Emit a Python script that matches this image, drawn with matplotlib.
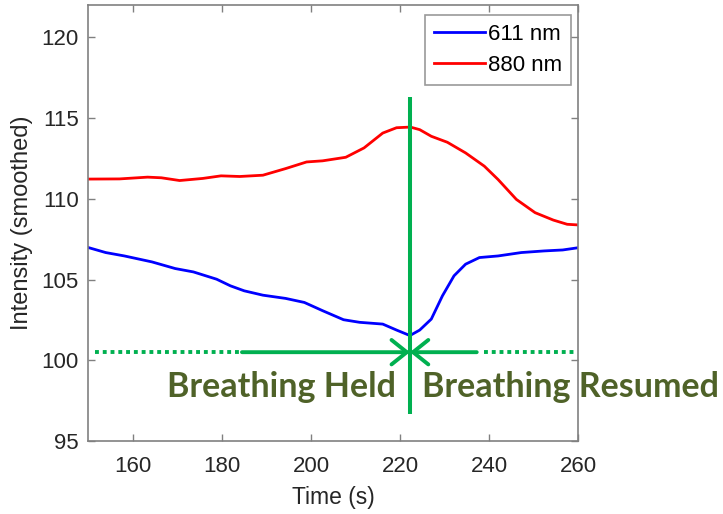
import matplotlib
matplotlib.use('Agg')
import matplotlib.pyplot as plt
import numpy as np

# 611 nm trace (blue)
t_611 = [150, 153.9, 158.1, 164.3, 169.5, 173.6, 178.8, 181.9, 185, 189.2, 194.3,
         198.5, 202.6, 207.3, 210.9, 216.1, 219.2, 222.2, 224.4, 227, 229.5,
         232.1, 234.7, 237.8, 242, 247.2, 252.3, 256.5, 260]
i_611 = [106.98, 106.67, 106.46, 106.09, 105.68, 105.47, 105.02, 104.61, 104.30,
         104.03, 103.83, 103.58, 103.07, 102.51, 102.35, 102.24, 101.87, 101.53,
         101.87, 102.55, 103.99, 105.23, 105.95, 106.36, 106.46, 106.67, 106.77,
         106.83, 106.97]

# 880 nm trace (red)
t_880 = [150, 157, 163.3, 166.4, 170.5, 175.7, 179.8, 184, 189.2, 194.3, 199,
         202.6, 207.8, 211.9, 216.1, 219.2, 222.3, 224.4, 227, 230.6, 234.7,
         238.9, 242, 246.1, 250.3, 254.4, 257.5, 260]
i_880 = [111.22, 111.23, 111.34, 111.30, 111.13, 111.26, 111.42, 111.38, 111.46,
         111.87, 112.28, 112.35, 112.57, 113.15, 114.07, 114.40, 114.44, 114.28,
         113.87, 113.50, 112.84, 112.02, 111.19, 109.96, 109.14, 108.68, 108.42,
         108.38]

x_ticks = [160, 180, 200, 220, 240, 260]
y_ticks = [95, 100, 105, 110, 115, 120]

# annotation
t_event = 222.2
marker_y = 100.5
held_dotted = [151.4, 184.5]
resumed_dotted = [238.8, 259.1]
held_start = 184.5
resumed_start = 237.2
vline_span = [96.7, 116.3]
label_y = 97.7

green = '#00B050'
olive = '#4F6228'
gray = '#808080'

plt.rcParams['font.family'] = ['Liberation Sans', 'DejaVu Sans']

fig = plt.figure(figsize=(7.23, 5.14), dpi=100)
ax = fig.add_axes([88.3 / 723, 73 / 514, 490 / 723, 436 / 514])

ax.plot(t_611, i_611, color='#0000FF', lw=2, label='611 nm')
ax.plot(t_880, i_880, color='#FF0000', lw=2, label='880 nm')

ax.plot([t_event, t_event], vline_span, color=green, lw=2.9, solid_capstyle='butt')
ax.plot(held_dotted, [marker_y, marker_y], color=green, lw=2.8,
        linestyle=(0, (1, 1)), dash_capstyle='butt')
ax.plot(resumed_dotted, [marker_y, marker_y], color=green, lw=2.8,
        linestyle=(0, (1, 1)), dash_capstyle='butt')
for start in [held_start, resumed_start]:
    ax.annotate('', xy=(t_event, marker_y), xytext=(start, marker_y),
                arrowprops=dict(arrowstyle='->,head_length=0.5,head_width=0.4',
                                lw=2.8, color=green, shrinkA=0, shrinkB=0,
                                mutation_scale=22))

ax.text(219.0, label_y, 'Breathing Held', ha='right', va='baseline',
        fontsize=24.5, fontweight='bold', family='Lato', color=olive)
ax.text(224.9, label_y, 'Breathing Resumed', ha='left', va='baseline',
        fontsize=24.5, fontweight='bold', family='Lato', color=olive,
        clip_on=False)

ax.set_xlim(150, 260)
ax.set_ylim(95, 122)
ax.set_xticks(x_ticks)
ax.set_yticks(y_ticks)
ax.tick_params(direction='in', length=5, width=1, color=gray, labelsize=16,
               labelcolor='#262626', top=True, right=True)
ax.tick_params(axis='x', pad=11)
ax.tick_params(axis='y', pad=7)
for sp in ax.spines.values():
    sp.set_color(gray)
    sp.set_linewidth(1.2)
ax.set_xlabel('Time (s)', fontsize=16.5, color='#262626', labelpad=6)
ax.set_ylabel('Intensity (smoothed)', fontsize=17, color='#262626', labelpad=6)

leg = ax.legend(loc='upper right', bbox_to_anchor=(1 - 7 / 490, 1 - 10 / 436),
                borderaxespad=0, fontsize=16, frameon=True, fancybox=False,
                handlelength=2.3, handletextpad=0.15, labelspacing=0.45,
                borderpad=0.4)
leg.get_frame().set_edgecolor(gray)
leg.get_frame().set_linewidth(1.2)

fig.savefig('out.png', dpi=100)
